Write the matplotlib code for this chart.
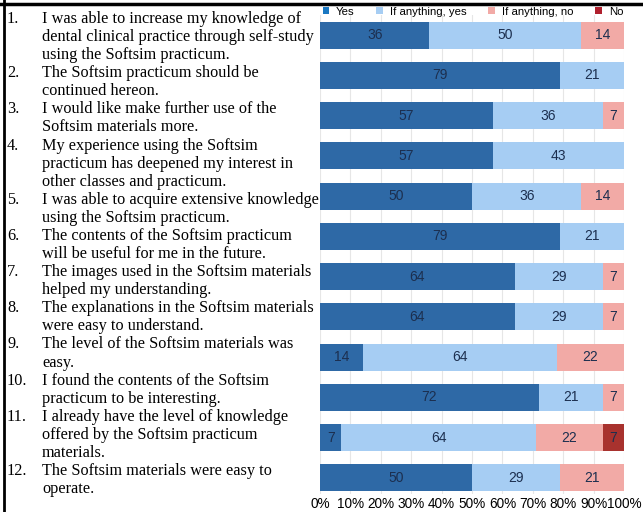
import matplotlib
matplotlib.use("Agg")
import matplotlib.pyplot as plt
from matplotlib.patches import Patch
from matplotlib.lines import Line2D
import numpy as np

questions = [
    ["I was able to increase my knowledge of", "dental clinical practice through self-study", "using the Softsim practicum."],
    ["The Softsim practicum should be", "continued hereon."],
    ["I would like make further use of the", "Softsim materials more."],
    ["My experience using the Softsim", "practicum has deepened my interest in", "other classes and practicum."],
    ["I was able to acquire extensive knowledge", "using the Softsim practicum."],
    ["The contents of the Softsim practicum", "will be useful for me in the future."],
    ["The images used in the Softsim materials", "helped my understanding."],
    ["The explanations in the Softsim materials", "were easy to understand."],
    ["The level of the Softsim materials was", "easy."],
    ["I found the contents of the Softsim", "practicum to be interesting."],
    ["I already have the level of knowledge", "offered by the Softsim practicum", "materials."],
    ["The Softsim materials were easy to", "operate."],
]
series = ["Yes", "If anything, yes", "If anything, no", "No"]
yes = [36, 79, 57, 57, 50, 79, 64, 64, 14, 72, 7, 50]
any_yes = [50, 21, 36, 43, 36, 21, 29, 29, 64, 21, 64, 29]
any_no = [14, 0, 7, 0, 14, 0, 7, 7, 22, 7, 22, 21]
no = [0, 0, 0, 0, 0, 0, 0, 0, 0, 0, 7, 0]
xticks = [0, 10, 20, 30, 40, 50, 60, 70, 80, 90, 100]
xticklabels = ["0%", "10%", "20%", "30%", "40%", "50%", "60%", "70%", "80%", "90%", "100%"]

colors = ["#2e69a6", "#a6cdf3", "#f2aaa6", "#a8322e"]
legend_colors = ["#1a78c2", "#a6cdf3", "#f2aaa6", "#b0202e"]

W, H = 643, 512
fig = plt.figure(figsize=(W / 100, H / 100), dpi=100)
ax = fig.add_axes([320 / W, 1 - 494 / H, (624 - 320) / W, (494 - 15) / H])

y = np.arange(len(yes))
data = [yes, any_yes, any_no, no]
left = np.zeros(len(yes))
for vals, c in zip(data, colors):
    vals = np.array(vals, dtype=float)
    ax.barh(y, vals, left=left, height=0.67, color=c, zorder=2)
    for yi, (l, v) in enumerate(zip(left, vals)):
        if v > 0:
            ax.text(l + v / 2, yi, f"{int(v)}", ha="center", va="center",
                    fontsize=10, color="#1c2f4f", zorder=3,
                    family=["Liberation Sans", "DejaVu Sans"])
    left += vals

ax.set_xlim(0, 100)
ax.set_ylim(11.4, -0.5)
ax.set_xticks(xticks)
ax.set_xticklabels(xticklabels, fontsize=9.8, family=["Liberation Sans", "DejaVu Sans"])
ax.tick_params(axis="x", length=0, pad=2)
ax.set_yticks([])
for s in ax.spines.values():
    s.set_visible(False)
ax.grid(axis="x", color="#e6e6e6", linewidth=0.8, zorder=0)
ax.set_axisbelow(True)

handles = [Patch(facecolor=c, edgecolor="none") for c in legend_colors]
leg = fig.legend(handles, series, loc="upper left", bbox_to_anchor=(318 / W, 1 - 2 / H),
                 ncol=4, frameon=False, handlelength=0.6, handleheight=0.6,
                 handletextpad=0.6, columnspacing=1.9, borderaxespad=0.0,
                 prop={"family": ["Liberation Sans", "DejaVu Sans"], "size": 8.2})

# Question list
line_h = 18.08
line_i = 0
for qi, lines in enumerate(questions):
    for li, txt in enumerate(lines):
        ypx = 19 + line_i * line_h
        if li == 0:
            fig.text(7 / W, 1 - ypx / H, f"{qi + 1}.", ha="left", va="center",
                     fontsize=11.7, family=["Liberation Serif", "DejaVu Serif"])
        fig.text(42 / W, 1 - ypx / H, txt, ha="left", va="center",
                 fontsize=11.7, family=["Liberation Serif", "DejaVu Serif"])
        line_i += 1

# Frame lines (left and top)
fig.add_artist(Line2D([4 / W, 4 / W], [0, 1], transform=fig.transFigure, color="black", linewidth=2))
fig.add_artist(Line2D([0, 1], [1 - 4 / H, 1 - 4 / H], transform=fig.transFigure, color="black", linewidth=2.5))

fig.savefig("out.png", dpi=100)
